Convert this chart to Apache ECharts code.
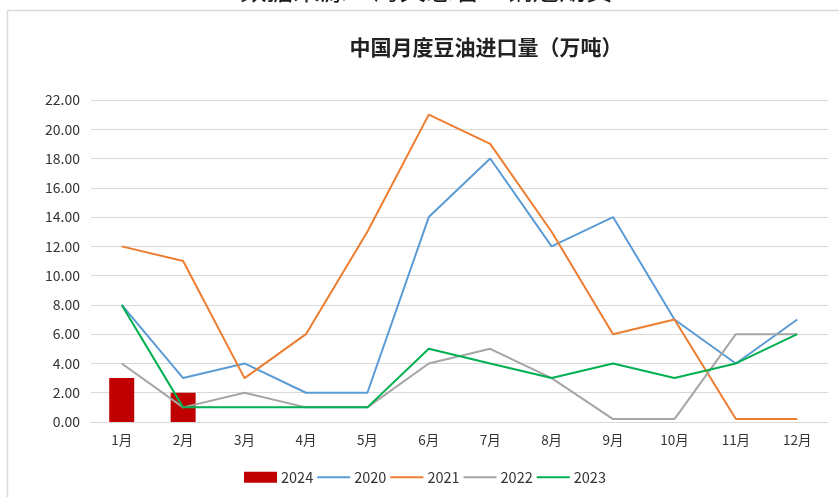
<!DOCTYPE html>
<html>
<head>
<meta charset="utf-8">
<script src="https://cdn.jsdelivr.net/npm/echarts@6/dist/echarts.min.js"></script>
<style>
  html, body { margin: 0; padding: 0; background: #fff; }
  #chart { width: 839px; height: 497px; }
</style>
</head>
<body>
<div id="chart"></div>
<script>
// Months on the category axis
const months = ['1月', '2月', '3月', '4月', '5月', '6月', '7月', '8月', '9月', '10月', '11月', '12月'];

// Monthly soybean oil imports, 10k tonnes
const y2024 = [3, 2];
const y2020 = [8, 3, 4, 2, 2, 14, 18, 12, 14, 7, 4, 7];
const y2021 = [12, 11, 3, 6, 13, 21, 19, 13, 6, 7, 0.2, 0.2];
const y2022 = [4, 1, 2, 1, 1, 4, 5, 3, 0.2, 0.2, 6, 6];
const y2023 = [8, 1, 1, 1, 1, 5, 4, 3, 4, 3, 4, 6];

const FONT = '"Noto Sans CJK SC", "Microsoft YaHei", sans-serif';
// flat stroke used as the legend marker of the line series
const LINE_ICON = 'path://M0 0H33V2H0Z';

const chart = echarts.init(document.getElementById('chart'));

function lineSeries(name, data, color) {
  return {
    name: name,
    type: 'line',
    data: data,
    symbol: 'none',
    lineStyle: { color: color, width: 2 },
    itemStyle: { color: color },
    z: 3
  };
}

chart.setOption({
  backgroundColor: '#ffffff',
  animation: false,
  textStyle: { fontFamily: FONT },
  title: {
    text: '中国月度豆油进口量（万吨）',
    left: 481,
    textAlign: 'center',
    top: 32,
    textStyle: { fontFamily: FONT, fontSize: 21, fontWeight: 'bold', color: '#222' }
  },
  graphic: [
    {
      type: 'text',
      left: 240,
      top: -23,
      style: { text: '数据来源：海关总署　铜冠期货', font: '26.6px ' + FONT, fill: '#1a1a1a' }
    },
    {
      type: 'line',
      shape: { x1: 7.5, y1: 10.5, x2: 839, y2: 10.5 },
      style: { stroke: '#d9d9d9', lineWidth: 1.5 }
    },
    {
      type: 'line',
      shape: { x1: 7.5, y1: 10.5, x2: 7.5, y2: 497 },
      style: { stroke: '#d9d9d9', lineWidth: 1.5 }
    }
  ],
  legend: {
    left: 239,
    top: 465,
    itemWidth: 33,
    itemHeight: 11,
    itemGap: 4,
    data: [
      { name: '2024', icon: 'rect' },
      { name: '2020', icon: LINE_ICON },
      { name: '2021', icon: LINE_ICON },
      { name: '2022', icon: LINE_ICON },
      { name: '2023', icon: LINE_ICON }
    ],
    textStyle: { fontFamily: FONT, fontSize: 14.5, color: '#333', padding: [0, 0, 0, -1] }
  },
  grid: { left: 91, right: 11, top: 100, bottom: 75 },
  xAxis: {
    type: 'category',
    data: months,
    boundaryGap: true,
    axisLine: { lineStyle: { color: '#d9d9d9', width: 1 } },
    axisTick: { show: false },
    axisLabel: { fontFamily: FONT, fontSize: 13.5, color: '#333', margin: 11 }
  },
  yAxis: {
    type: 'value',
    min: 0,
    max: 22,
    interval: 2,
    axisLine: { show: false },
    axisTick: { show: false },
    splitLine: { lineStyle: { color: '#d9d9d9', width: 1 } },
    axisLabel: {
      fontFamily: FONT,
      fontSize: 14,
      color: '#333',
      margin: 11,
      formatter: v => v.toFixed(2)
    }
  },
  series: [
    {
      name: '2024',
      type: 'bar',
      data: y2024,
      barWidth: 25,
      itemStyle: { color: '#c00000' },
      z: 2
    },
    lineSeries('2020', y2020, '#5b9bd5'),
    lineSeries('2021', y2021, '#ed7d31'),
    lineSeries('2022', y2022, '#a5a5a5'),
    lineSeries('2023', y2023, '#00b050')
  ]
});
</script>
</body>
</html>
